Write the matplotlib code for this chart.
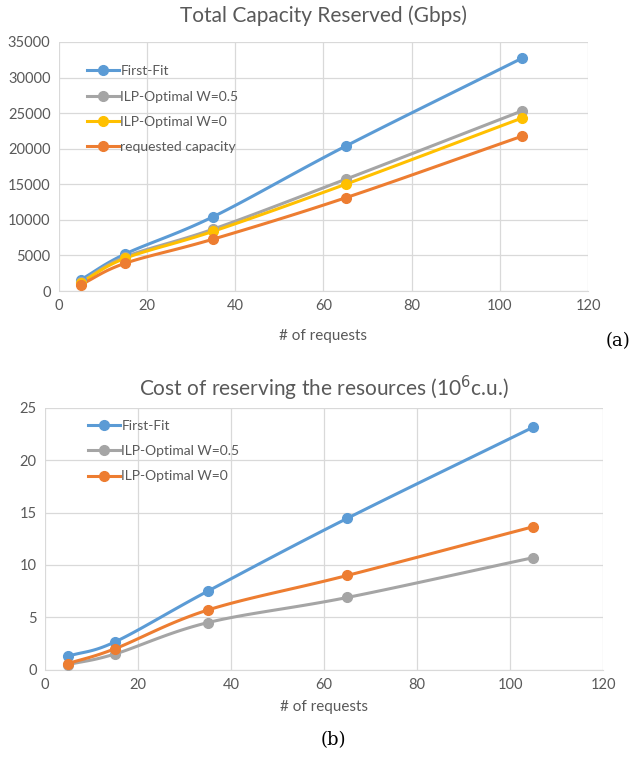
import numpy as np
import matplotlib.pyplot as plt

plt.rcParams['font.family'] = ['Lato', 'DejaVu Sans']

requests = [5, 15, 35, 65, 105]

# (a) total capacity reserved, Gbps
cap_first_fit = [1600, 5200, 10450, 20350, 32700]
cap_ilp_05 = [1300, 4800, 8700, 15700, 25300]
cap_ilp_0 = [1200, 4600, 8400, 15000, 24300]
cap_requested = [900, 3900, 7300, 13100, 21750]

# (b) cost of reserving resources, 10^6 c.u.
cost_first_fit = [1.3, 2.65, 7.5, 14.45, 23.15]
cost_ilp_05 = [0.5, 1.5, 4.5, 6.9, 10.7]
cost_ilp_0 = [0.6, 2.0, 5.7, 9.0, 13.65]

BLUE = '#5B9BD5'
GRAY = '#A5A5A5'
YELLOW = '#FFC000'
ORANGE = '#ED7D31'
TXT = '#595959'


def smooth(x, y, n=30):
    # Catmull-Rom curve through the points, like Excel's smoothed line
    x = np.asarray(x, float)
    y = np.asarray(y, float)
    px = np.concatenate([[2 * x[0] - x[1]], x, [2 * x[-1] - x[-2]]])
    py = np.concatenate([[2 * y[0] - y[1]], y, [2 * y[-1] - y[-2]]])
    xs, ys = [], []
    t = np.linspace(0, 1, n)
    for i in range(1, len(px) - 2):
        for p, out in ((px, xs), (py, ys)):
            p0, p1, p2, p3 = p[i - 1], p[i], p[i + 1], p[i + 2]
            out.append(0.5 * (2 * p1 + (-p0 + p2) * t
                              + (2 * p0 - 5 * p1 + 4 * p2 - p3) * t ** 2
                              + (-p0 + 3 * p1 - 3 * p2 + p3) * t ** 3))
    return np.concatenate(xs), np.concatenate(ys)


def style(ax, ymax, ystep):
    ax.set_xlim(0, 120)
    ax.set_ylim(0, ymax)
    ax.set_xticks(range(0, 121, 20))
    ax.set_yticks(np.arange(0, ymax + 0.1, ystep))
    ax.grid(True, color='#D9D9D9', linewidth=0.9)
    ax.set_axisbelow(True)
    for s in ['top', 'right', 'left']:
        ax.spines[s].set_visible(False)
    ax.spines['bottom'].set_color('#D9D9D9')
    ax.tick_params(length=0, colors=TXT, labelsize=10.5, pad=6)


def draw(ax, series):
    for y, c, lab in series:
        sx, sy = smooth(requests, y)
        ax.plot(sx, sy, color=c, lw=2.2, zorder=3)
        ax.plot(requests, y, 'o', color=c, ms=7, zorder=4)
        ax.plot([], [], '-o', color=c, lw=2.2, ms=7, label=lab)


def legend(ax, anchor, spacing):
    ax.legend(loc='upper left', bbox_to_anchor=anchor, frameon=False,
              fontsize=10, labelcolor=TXT, handlelength=2.3, handletextpad=0.1,
              labelspacing=spacing, borderaxespad=0.3)


fig = plt.figure(figsize=(6.33, 7.62), dpi=100)

ax1 = fig.add_axes([0.093, 0.618, 0.836, 0.327])
style(ax1, 35000, 5000)
draw(ax1, [(cap_first_fit, BLUE, 'First-Fit'),
           (cap_ilp_05, GRAY, 'ILP-Optimal W=0.5'),
           (cap_ilp_0, YELLOW, 'ILP-Optimal W=0'),
           (cap_requested, ORANGE, 'requested capacity')])
ax1.set_title('Total Capacity Reserved (Gbps)', color=TXT, fontsize=15, pad=14)
ax1.set_xlabel('# of requests', color=TXT, fontsize=11, labelpad=11)
legend(ax1, (0.035, 0.945), 0.95)

ax2 = fig.add_axes([0.071, 0.121, 0.882, 0.344])
style(ax2, 25, 5)
draw(ax2, [(cost_first_fit, BLUE, 'First-Fit'),
           (cost_ilp_05, GRAY, 'ILP-Optimal W=0.5'),
           (cost_ilp_0, ORANGE, 'ILP-Optimal W=0')])
ax2.set_title('Cost of reserving the resources (10$^6$c.u.)', color=TXT,
              fontsize=15, pad=8)
ax2.set_xlabel('# of requests', color=TXT, fontsize=11, labelpad=6)
legend(ax2, (0.06, 0.99), 0.95)

fig.text(0.976, 0.553, '(a)', fontsize=13, family='DejaVu Serif', ha='center', va='center')
fig.text(0.526, 0.029, '(b)', fontsize=13, family='DejaVu Serif', ha='center', va='center')

fig.savefig('out.png', dpi=100, facecolor='white')
